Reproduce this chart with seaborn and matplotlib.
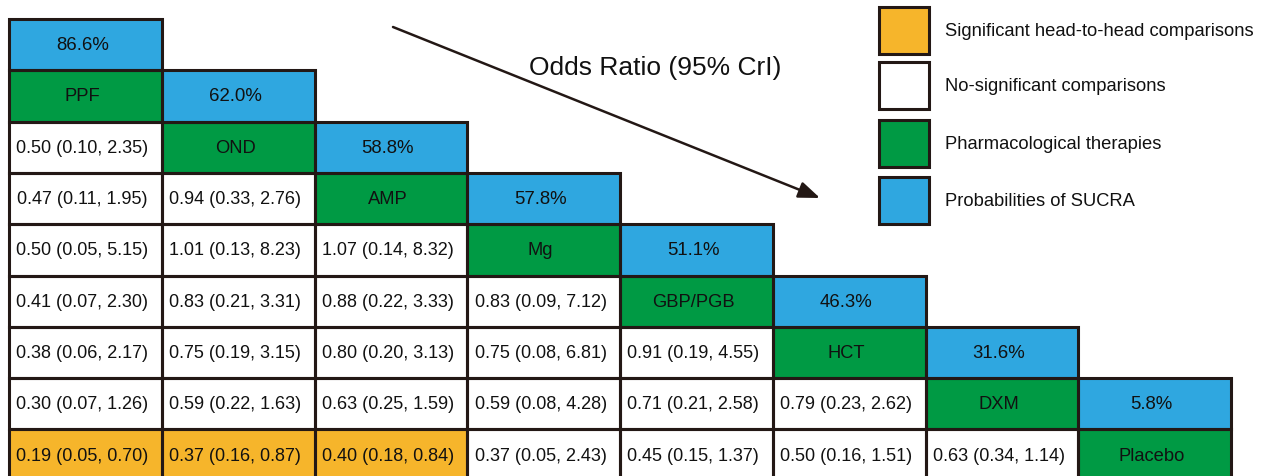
import numpy as np
import matplotlib
matplotlib.use("Agg")
import matplotlib.pyplot as plt
from matplotlib.colors import ListedColormap
from matplotlib.patches import Rectangle
import seaborn as sns

# Treatments ordered by SUCRA
treatments = ["PPF", "OND", "AMP", "Mg", "GBP/PGB", "HCT", "DXM", "Placebo"]
sucra = [86.6, 62.0, 58.8, 57.8, 51.1, 46.3, 31.6, 5.8]

# Lower triangle: odds ratios of row treatment vs each earlier treatment
or_est = [
    [],
    [0.50],
    [0.47, 0.94],
    [0.50, 1.01, 1.07],
    [0.41, 0.83, 0.88, 0.83],
    [0.38, 0.75, 0.80, 0.75, 0.91],
    [0.30, 0.59, 0.63, 0.59, 0.71, 0.79],
    [0.19, 0.37, 0.40, 0.37, 0.45, 0.50, 0.63],
]
or_low = [
    [],
    [0.10],
    [0.11, 0.33],
    [0.05, 0.13, 0.14],
    [0.07, 0.21, 0.22, 0.09],
    [0.06, 0.19, 0.20, 0.08, 0.19],
    [0.07, 0.22, 0.25, 0.08, 0.21, 0.23],
    [0.05, 0.16, 0.18, 0.05, 0.15, 0.16, 0.34],
]
or_high = [
    [],
    [2.35],
    [1.95, 2.76],
    [5.15, 8.23, 8.32],
    [2.30, 3.31, 3.33, 7.12],
    [2.17, 3.15, 3.13, 6.81, 4.55],
    [1.26, 1.63, 1.59, 4.28, 2.58, 2.62],
    [0.70, 0.87, 0.84, 2.43, 1.37, 1.51, 1.14],
]

legend_labels = [
    "Significant head-to-head comparisons",
    "No-significant comparisons",
    "Pharmacological therapies",
    "Probabilities of SUCRA",
]

WHITE, ORANGE, GREEN, BLUE = "#FFFFFF", "#F6B52B", "#009A44", "#2FA7E0"
EDGE = "#231815"
palette = [WHITE, ORANGE, GREEN, BLUE]

n = len(treatments)
codes = np.full((n + 1, n), np.nan)
labels = [["" for _ in range(n)] for _ in range(n + 1)]
for i in range(n):
    codes[i, i] = 3
    labels[i][i] = f"{sucra[i]:.1f}%"
    codes[i + 1, i] = 2
    labels[i + 1][i] = treatments[i]
    for j in range(i):
        sig = or_high[i][j] < 1 or or_low[i][j] > 1
        codes[i + 1, j] = 1 if sig else 0
        labels[i + 1][j] = f"{or_est[i][j]:.2f} ({or_low[i][j]:.2f}, {or_high[i][j]:.2f})"

plt.rcParams["font.family"] = ["Liberation Sans", "DejaVu Sans"]

W, H = 1263, 477
fig = plt.figure(figsize=(W / 100, H / 100), dpi=100)
ax = fig.add_axes([0, 0, 1, 1])

sns.heatmap(codes, mask=np.isnan(codes), cmap=ListedColormap(palette),
            vmin=-0.5, vmax=3.5, cbar=False, linewidths=0, ax=ax)

# map cell grid onto pixel layout of the figure
x0, cw = 9, 152.75
y0, rh = 20, 51.3
ax.set_xlim(-x0 / cw, (W - x0) / cw)
ax.set_ylim((H - y0) / rh, -y0 / rh)
ax.axis("off")

sizes = {0: 13, 1: 13, 2: 13.2, 3: 13.4}
for r in range(n + 1):
    for c in range(n):
        txt = labels[r][c]
        if not txt:
            continue
        ax.add_patch(Rectangle((c, r), 1, 1, fill=False, edgecolor=EDGE,
                               lw=2.2, clip_on=False, zorder=3))
        ax.text(c + 0.48, r + 0.5, txt, ha="center", va="center",
                fontsize=sizes[int(codes[r, c])], color="#111111", zorder=4)


def px(x, y):
    return x / W, 1 - y / H


# legend
box_tops = [8, 63, 121, 178]
for k, (lab, top) in enumerate(zip(legend_labels, box_tops)):
    bx, by = px(879, top + 47)
    ax.add_patch(Rectangle((bx, by), 50 / W, 47 / H, transform=ax.transAxes,
                           facecolor=[ORANGE, WHITE, GREEN, BLUE][k],
                           edgecolor=EDGE, lw=2.2, clip_on=False))
    tx, ty = px(945, top + 23.5)
    ax.text(tx, ty, lab, transform=ax.transAxes, ha="left", va="center",
            fontsize=13.2, color="#111111")

# title and arrow
tx, ty = px(655, 68)
ax.text(tx, ty, "Odds Ratio (95% CrI)", transform=ax.transAxes,
        ha="center", va="center", fontsize=19, color="#111111")
ax.annotate("", xy=px(820, 199), xytext=px(393, 28),
            xycoords="axes fraction", textcoords="axes fraction",
            arrowprops=dict(arrowstyle="-|>,head_length=1.3,head_width=0.5",
                            color=EDGE, lw=1.8, shrinkA=0, shrinkB=0))

fig.savefig("out.png", dpi=100)
